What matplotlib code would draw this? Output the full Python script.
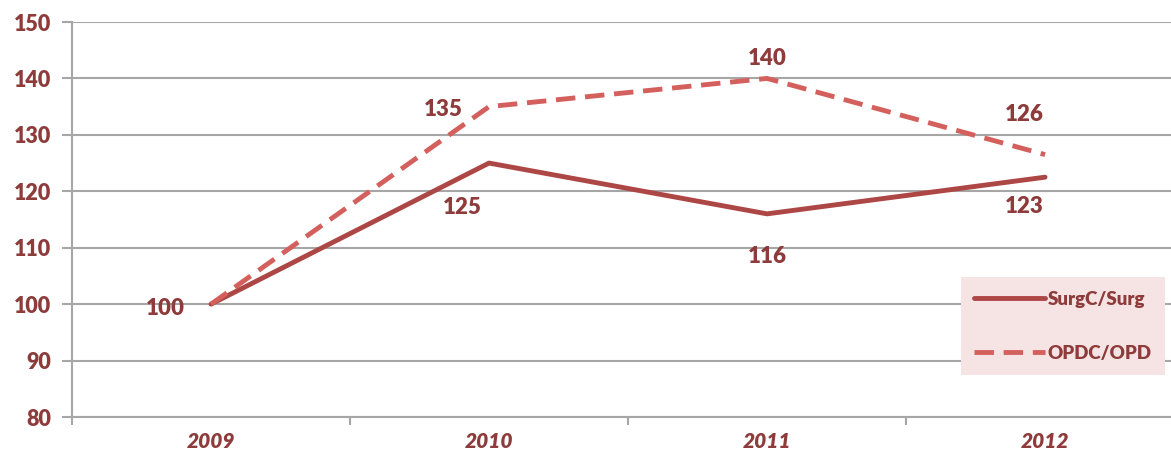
import matplotlib
matplotlib.use("Agg")
import matplotlib.pyplot as plt
from matplotlib.ticker import FixedLocator

plt.rcParams["font.family"] = ["Lato", "DejaVu Sans"]

years = ["2009", "2010", "2011", "2012"]
surg = [100, 125, 116, 122.5]
opd = [100, 135, 140, 126.5]
surg_labels = ["100", "125", "116", "123"]
opd_labels = ["", "135", "140", "126"]

TXT = "#8e3b3b"
C_SURG = "#ad4745"
C_OPD = "#d4605e"
GRID = "#a6a6a6"

fig = plt.figure(figsize=(11.71, 4.57), dpi=100)
ax = fig.add_axes([72 / 1171, 1 - 417 / 457, 1 - 72 / 1171, 395 / 457])

x = list(range(len(years)))
ax.plot(x, surg, color=C_SURG, lw=3.5, label="SurgC/Surg", solid_capstyle="round")
ax.plot(x, opd, color=C_OPD, lw=3.5, ls=(0, (4, 2)), label="OPDC/OPD")

ax.set_ylim(80, 150)
ax.set_xlim(-0.5, 3.453)
ax.set_yticks(range(80, 151, 10))
ax.set_xticks(x)
ax.set_xticklabels(years)
ax.xaxis.set_minor_locator(FixedLocator([-0.5, 0.5, 1.5, 2.5]))
ax.tick_params(axis="x", which="major", length=0, pad=11)
ax.tick_params(axis="x", which="minor", length=6, color=GRID, width=1.5, direction="out")
ax.tick_params(axis="y", length=7, color=GRID, width=1.5, pad=8)
for t in ax.get_yticklabels():
    t.set_color(TXT); t.set_fontsize(15.5); t.set_fontweight("heavy")
for t in ax.get_xticklabels():
    t.set_color(TXT); t.set_fontsize(15); t.set_fontweight("heavy"); t.set_fontstyle("italic")

ax.grid(axis="y", color=GRID, lw=1.5)
ax.set_axisbelow(True)
for s in ["top", "right"]:
    ax.spines[s].set_visible(False)
ax.spines["left"].set_color(GRID)
ax.spines["left"].set_linewidth(1.5)
ax.spines["bottom"].set_color(GRID)
ax.spines["bottom"].set_linewidth(1.5)

kw = dict(color=TXT, fontsize=16, fontweight="heavy", ha="center", va="center",
          textcoords="offset points")
# SurgC/Surg labels
ax.annotate(surg_labels[0], (0, surg[0]), xytext=(-33, -3), **kw)
ax.annotate(surg_labels[1], (1, surg[1]), xytext=(-19, -32), **kw)
ax.annotate(surg_labels[2], (2, surg[2]), xytext=(0, -31), **kw)
ax.annotate(surg_labels[3], (3, surg[3]), xytext=(-15, -21), **kw)
# OPDC/OPD labels
ax.annotate(opd_labels[1], (1, opd[1]), xytext=(-33, -2), **kw)
ax.annotate(opd_labels[2], (2, opd[2]), xytext=(0, 14), **kw)
ax.annotate(opd_labels[3], (3, opd[3]), xytext=(-15, 29), **kw)

leg = ax.legend(loc="lower right", bbox_to_anchor=(0.9945, 0.106), borderaxespad=0,
                frameon=True, fancybox=False,
                facecolor="#f6e3e3", edgecolor="none", framealpha=1, fontsize=13.5,
                handlelength=3.8, handletextpad=0.15, labelspacing=2.0, borderpad=0.7)
for t in leg.get_texts():
    t.set_color(TXT); t.set_fontweight("heavy")

fig.savefig("out.png", dpi=100)
